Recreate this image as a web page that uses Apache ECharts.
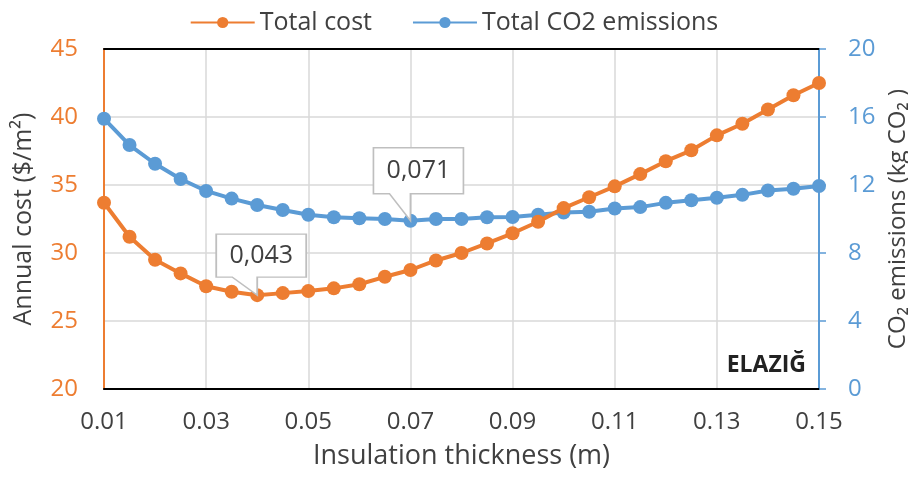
<!DOCTYPE html>
<html>
<head>
<meta charset="utf-8">
<script src="https://cdn.jsdelivr.net/npm/echarts@6/dist/echarts.min.js"></script>
<style>html,body{margin:0;padding:0;background:#fff}#c{width:908px;height:478px}</style>
</head>
<body>
<div id="c"></div>
<script>
const thickness = ["0.01","0.015","0.02","0.025","0.03","0.035","0.04","0.045","0.05","0.055","0.06","0.065","0.07","0.075","0.08","0.085","0.09","0.095","0.1","0.105","0.11","0.115","0.12","0.125","0.13","0.135","0.14","0.145","0.15"];
const xTickLabels = ["0.01","0.03","0.05","0.07","0.09","0.11","0.13","0.15"];
const totalCost = [33.7,31.2,29.5,28.5,27.55,27.15,26.9,27.05,27.2,27.4,27.7,28.25,28.75,29.45,30.0,30.7,31.45,32.3,33.3,34.1,34.9,35.8,36.75,37.55,38.65,39.5,40.55,41.6,42.5];
const totalCO2 = [15.9,14.35,13.25,12.35,11.65,11.2,10.82,10.53,10.25,10.1,10.04,10.0,9.9,10.0,10.0,10.1,10.12,10.25,10.38,10.43,10.62,10.7,10.95,11.1,11.25,11.42,11.68,11.78,11.94];
const costTicks = [20,25,30,35,40,45];
const co2Ticks = [0,4,8,12,16,20];
const costOptimumLabel = "0,043";
const co2OptimumLabel = "0,071";

const ORANGE = '#ED7D31', BLUE = '#5B9BD5', TXT = '#404040', FONT = 'Open Sans';
const chart = echarts.init(document.getElementById('c'), null, {renderer:'canvas'});

const calloutA = 'path://M0,0L90,0L90,43L41,43L41,61L16,43L0,43Z';
const calloutB = 'path://M0,0L90,0L90,46L37,46L37,73L16,46L0,46Z';

chart.setOption({
  animation:false,
  textStyle:{fontFamily:FONT},
  legend:{
    top:5, left:'center', itemWidth:64, itemHeight:14, itemGap:40,
    textStyle:{fontFamily:FONT, fontSize:25, color:TXT},
    data:['Total cost','Total CO2 emissions']
  },
  title:{
    text:'ELAZIĞ', right:97, top:349,
    textStyle:{fontFamily:FONT, fontSize:23, fontWeight:'bold', color:'#222'}
  },
  grid:{left:104, right:89, top:49, bottom:89, containLabel:false, outerBoundsMode:'none'},
  xAxis:[{
    type:'category', data:thickness, boundaryGap:false,
    name:'Insulation thickness (m)', nameLocation:'middle', nameGap:54,
    nameTextStyle:{fontFamily:FONT, fontSize:27, color:TXT},
    axisLine:{lineStyle:{color:'#000', width:2}},
    axisTick:{show:false},
    axisLabel:{interval:3, margin:21, fontSize:24, color:TXT, fontFamily:FONT,
      formatter:v=>xTickLabels.includes(v)?v:''},
    splitLine:{show:true, interval:3, lineStyle:{color:'#d9d9d9', width:1.5}}
  },{
    type:'category', data:thickness, boundaryGap:false, position:'top',
    axisLine:{show:true, lineStyle:{color:'#000', width:2}},
    axisTick:{show:false}, axisLabel:{show:false}, splitLine:{show:false}
  }],
  yAxis:[{
    type:'value', min:costTicks[0], max:costTicks[costTicks.length-1], interval:5,
    name:'Annual cost ($/m²)', nameLocation:'middle', nameGap:68, nameRotate:90,
    nameTextStyle:{fontFamily:FONT, fontSize:25, color:TXT},
    axisLine:{show:true, lineStyle:{color:ORANGE, width:2}},
    axisTick:{show:false},
    axisLabel:{margin:26, fontSize:24, color:ORANGE, fontFamily:FONT},
    splitLine:{show:true, lineStyle:{color:'#d9d9d9', width:1.5}}
  },{
    type:'value', min:co2Ticks[0], max:co2Ticks[co2Ticks.length-1], interval:4,
    name:'CO₂ emissions (kg CO₂ )', nameLocation:'middle', nameGap:58, nameRotate:90,
    nameTextStyle:{fontFamily:FONT, fontSize:24, color:TXT},
    axisLine:{show:true, lineStyle:{color:BLUE, width:2}},
    axisTick:{show:true, inside:false, length:7, lineStyle:{color:BLUE, width:1.5}},
    axisLabel:{margin:29, fontSize:24, color:BLUE, fontFamily:FONT},
    splitLine:{show:false}
  }],
  series:[{
    name:'Total cost', type:'line', yAxisIndex:0, data:totalCost,
    symbol:'circle', symbolSize:14, z:3,
    lineStyle:{color:ORANGE, width:4}, itemStyle:{color:ORANGE},
    markPoint:{
      symbol:calloutA, symbolSize:[90,61], symbolOffset:[4,-30.5], symbolKeepAspect:false,
      itemStyle:{color:'#fff', borderColor:'#bfbfbf', borderWidth:1.5},
      label:{show:true, position:'inside', offset:[0,-9], color:TXT, fontSize:25, fontFamily:FONT, formatter:()=>costOptimumLabel},
      data:[{type:'min'}]
    }
  },{
    name:'Total CO2 emissions', type:'line', yAxisIndex:1, data:totalCO2,
    symbol:'circle', symbolSize:14, z:2,
    lineStyle:{color:BLUE, width:4}, itemStyle:{color:BLUE},
    markPoint:{
      symbol:calloutB, symbolSize:[90,73], symbolOffset:[8,-36.5], symbolKeepAspect:false,
      itemStyle:{color:'#fff', borderColor:'#bfbfbf', borderWidth:1.5},
      label:{show:true, position:'inside', offset:[0,-13.5], color:TXT, fontSize:25, fontFamily:FONT, formatter:()=>co2OptimumLabel},
      data:[{type:'min'}]
    }
  }]
});
</script>
</body>
</html>
